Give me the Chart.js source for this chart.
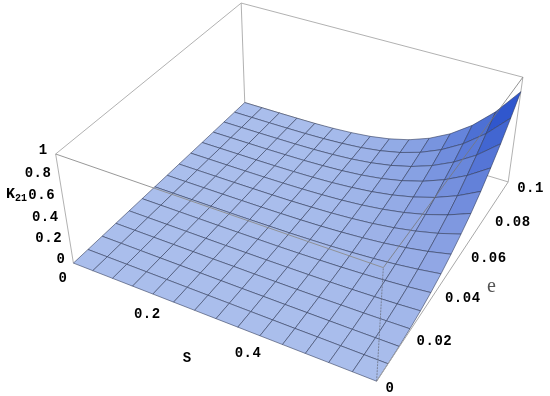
<!DOCTYPE html>
<html><head><meta charset="utf-8">
<style>html,body{margin:0;padding:0;background:#fff}canvas{display:block}</style>
<script src="https://cdn.jsdelivr.net/npm/chart.js@4"></script>
</head><body><canvas id="c" width="550" height="396"></canvas>
<script>
const sGrid=[0,0.0429,0.0857,0.1286,0.1714,0.2143,0.2571,0.3,0.3429,0.3857,0.4286,0.4714,0.5143,0.5571,0.6];
const eGrid=[0,0.00714,0.01429,0.02143,0.02857,0.03571,0.04286,0.05,0.05714,0.06429,0.07143,0.07857,0.08571,0.09286,0.1];
const k21=[
[0,0,0,0,0,0,0,0,0,0,0,0,0,0,0],
[0,0,0,0,0,0,0,0,0,0,0,0.001,0.001,0.001,0.002],
[0,0,0,0,0,0,0,0,0.001,0.001,0.002,0.003,0.004,0.006,0.008],
[0,0,0,0,0,0,0.001,0.001,0.002,0.003,0.005,0.008,0.011,0.016,0.022],
[0,0,0,0,0,0,0.001,0.002,0.004,0.006,0.010,0.015,0.022,0.031,0.044],
[0,0,0,0,0,0.001,0.002,0.003,0.006,0.011,0.017,0.026,0.038,0.053,0.074],
[0,0,0,0,0,0.001,0.003,0.005,0.010,0.016,0.026,0.039,0.057,0.082,0.113],
[0,0,0,0,0.001,0.002,0.004,0.008,0.014,0.024,0.038,0.057,0.084,0.119,0.165],
[0,0,0,0,0.001,0.002,0.005,0.011,0.019,0.032,0.051,0.078,0.115,0.163,0.226],
[0,0,0,0,0.001,0.003,0.007,0.014,0.025,0.042,0.067,0.102,0.150,0.214,0.296],
[0,0,0,0,0.001,0.004,0.009,0.018,0.033,0.055,0.087,0.132,0.194,0.276,0.383],
[0,0,0,0,0.002,0.005,0.012,0.023,0.041,0.069,0.111,0.169,0.248,0.352,0.487],
[0,0,0,0.001,0.002,0.006,0.014,0.028,0.051,0.086,0.137,0.208,0.305,0.433,0.600],
[0,0,0,0.001,0.003,0.008,0.018,0.034,0.062,0.104,0.166,0.253,0.371,0.528,0.731],
[0,0,0,0.001,0.003,0.009,0.021,0.041,0.074,0.124,0.198,0.301,0.442,0.628,0.870]
];
const sTicks=[0,0.2,0.4];
const eTicks=[0,0.02,0.04,0.06,0.08,0.1];
const kTicks=[0,0.2,0.4,0.6,0.8,1];
const sMax=0.6,eMax=0.1;

// camera: fitted from where the eight corners of the bounding box fall on the page
const camera=[
[0,0,0,73,263],[1,0,0,377,381],[1,1,0,508,182],[0,1,0,245,102.7],
[0,0,1,56,154],[1,0,1,383,268],[1,1,1,523,77],[0,1,1,241,3]];
function fitCamera(c){
  const A=[],b=[];
  for(const [u,v,w,x,y] of c){
    A.push([u,v,w,1,0,0,0,0,-x*u,-x*v,-x*w]);b.push(x);
    A.push([0,0,0,0,u,v,w,1,-y*u,-y*v,-y*w]);b.push(y);
  }
  const n=11,M=[];
  for(let i=0;i<n;i++){M.push(new Array(n+1).fill(0));
    for(let j=0;j<n;j++)for(let r=0;r<A.length;r++)M[i][j]+=A[r][i]*A[r][j];
    for(let r=0;r<A.length;r++)M[i][n]+=A[r][i]*b[r];}
  for(let i=0;i<n;i++){let p=i;for(let r=i+1;r<n;r++)if(Math.abs(M[r][i])>Math.abs(M[p][i]))p=r;
    [M[i],M[p]]=[M[p],M[i]];
    for(let r=0;r<n;r++)if(r!==i){const f=M[r][i]/M[i][i];for(let c2=i;c2<=n;c2++)M[r][c2]-=f*M[i][c2];}}
  return M.map((row,i)=>row[n]/row[i]);
}
const P=fitCamera(camera);
function project(s,e,k){
  const u=s/sMax,v=e/eMax,w=k;
  const d=P[8]*u+P[9]*v+P[10]*w+1;
  return {x:(P[0]*u+P[1]*v+P[2]*w+P[3])/d,y:(P[4]*u+P[5]*v+P[6]*w+P[7])/d};
}
function quadColor(i,j){
  const zu=((k21[j][i+1]-k21[j][i])+(k21[j+1][i+1]-k21[j+1][i]))*7;
  const zv=((k21[j+1][i]-k21[j][i])+(k21[j+1][i+1]-k21[j][i+1]))*7;
  const tu=Math.min(1,zu/3.4),tv=Math.min(1,zv/2);
  return `rgb(${Math.round(170-110*tu-25*tv)},${Math.round(190-85*tu-30*tv)},${Math.round(236-25*tu-10*tv)})`;
}
function line(pts,color,width,dash){
  return {data:pts,showLine:true,pointRadius:0,borderColor:color,borderWidth:width,borderDash:dash||[],fill:false,tension:0,clip:false};
}
const boxColor='#a8a8a8';
const corner=(a,b,c)=>project(a*sMax,b*eMax,c);
const front=[
  line([corner(0,0,1),corner(1,0,1)],'#8c8c8c',0.9),
  line([corner(1,0,1),corner(1,1,1)],'#777777',0.8),
  line([corner(1,0,0),corner(1,0,1)],'#6a7080',0.8,[2,1]),
  line([corner(1,0,0),corner(1,1,0)],boxColor,1),
];
const back=[
  line([corner(0,0,1),corner(0,1,1)],boxColor,0.9),
  line([corner(0,1,1),corner(1,1,1)],boxColor,0.9),
  line([corner(0,0,0),corner(0,0,1)],boxColor,0.9),
  line([corner(0,1,0),corner(0,1,1)],boxColor,0.9),
  line([corner(1,1,0),corner(1,1,1)],boxColor,0.9),
  line([corner(0,1,0),corner(1,1,0)],boxColor,0.9),
];
const quads=[];
for(let j=0;j<14;j++)for(let i=0;i<14;i++){
  const pts=[project(sGrid[i],eGrid[j],k21[j][i]),project(sGrid[i+1],eGrid[j],k21[j][i+1]),
    project(sGrid[i+1],eGrid[j+1],k21[j+1][i+1]),project(sGrid[i],eGrid[j+1],k21[j+1][i]),project(sGrid[i],eGrid[j],k21[j][i])];
  quads.push({rank:(14-i)+j,ds:{data:pts,showLine:true,pointRadius:0,tension:0,clip:false,
    borderColor:'rgba(50,60,90,0.78)',borderWidth:0.75,fill:'shape',backgroundColor:quadColor(i,j)}});
}
quads.sort((a,b)=>a.rank-b.rank);

const labels={id:'labels',afterDatasetsDraw(chart){
  const c=chart.ctx;c.save();c.fillStyle='#000';c.textBaseline='middle';
  c.font='bold 14px "Liberation Mono"';c.letterSpacing='0.5px';
  const txt=v=>String(v);
  c.textAlign='right';
  kTicks.forEach(k=>{const p=project(0,0,k);c.fillText(txt(k),p.x-8,p.y-4);});
  sTicks.forEach(s=>{const p=project(s,0,0);c.fillText(txt(s),p.x-6,p.y+15);});
  c.textAlign='left';
  eTicks.forEach(e=>{const p=project(sMax,e,0);c.fillText(txt(e),p.x+9,p.y+7);});
  c.letterSpacing='0px';
  c.textAlign='center';c.fillText('S',187,358);
  c.textAlign='left';c.font='bold 15px "Liberation Mono"';c.fillText('K',6,194);
  c.font='bold 10px "Liberation Mono"';c.fillText('21',15,198);
  c.font='20px "Liberation Serif"';c.fillStyle='#555';c.fillText('e',487,287);
  c.restore();
}};
new Chart(document.getElementById('c'),{
  type:'scatter',
  data:{datasets:[...front,...quads.map(q=>q.ds),...back]},
  options:{responsive:false,animation:false,
    layout:{padding:0},
    plugins:{legend:{display:false},tooltip:{enabled:false}},
    scales:{x:{type:'linear',min:0,max:550,display:false},y:{type:'linear',min:0,max:396,reverse:true,display:false}}},
  plugins:[labels]
});
</script></body></html>
